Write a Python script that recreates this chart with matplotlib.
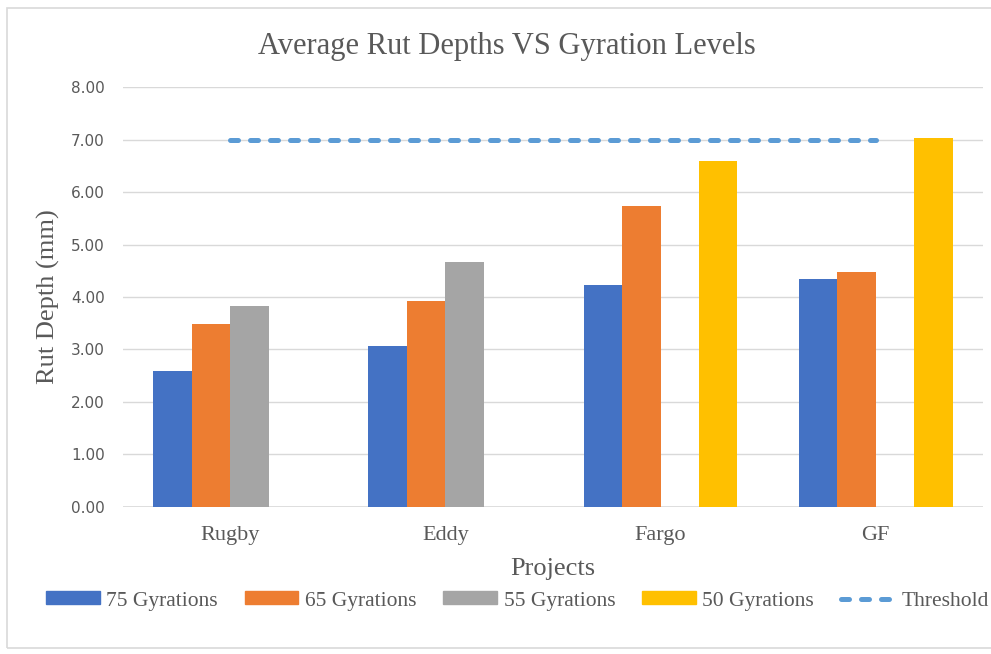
import numpy as np
import matplotlib
matplotlib.use('Agg')
from matplotlib import pyplot as plt
from matplotlib.patches import Patch, Rectangle
from matplotlib.lines import Line2D

projects = ['Rugby', 'Eddy', 'Fargo', 'GF']
series_names = ['75 Gyrations', '65 Gyrations', '55 Gyrations', '50 Gyrations']
g75 = [2.59, 3.06, 4.23, 4.35]
g65 = [3.48, 3.92, 5.73, 4.47]
g55 = [3.82, 4.67, np.nan, np.nan]
g50 = [np.nan, np.nan, 6.60, 7.04]
threshold = [7.0, 7.0, 7.0, 7.0]
yticks = [0, 1, 2, 3, 4, 5, 6, 7, 8]

colors = ['#4472C4', '#ED7D31', '#A5A5A5', '#FFC000']
line_col = '#5B9BD5'
txt_col = '#595959'
serif = 'Liberation Serif'
dash = (0, (1.6, 2.4))

fig = plt.figure(figsize=(9.91, 6.54), dpi=100)
ax = fig.add_axes([0.124, 0.2253, 0.868, 0.6412])

x = np.arange(len(projects))
w = 0.179
for i, vals in enumerate([g75, g65, g55, g50]):
    ax.bar(x + (i - 1.5) * w, vals, w, color=colors[i], zorder=3)

ax.plot(x, threshold, color=line_col, lw=3.6, linestyle=dash,
        dash_capstyle='round', zorder=4)

ax.set_xlim(-0.5, 3.5)
ax.set_ylim(0, 8)
ax.set_yticks(yticks)
ax.set_yticklabels(['%.2f' % v for v in yticks], fontsize=11, color=txt_col)
ax.set_xticks(x)
ax.set_xticklabels(projects, fontfamily=serif, fontsize=16, color=txt_col)
ax.tick_params(axis='both', length=0)
ax.tick_params(axis='y', pad=13)
ax.tick_params(axis='x', pad=14)
ax.grid(axis='y', color='#D9D9D9', lw=1, zorder=0)
for s in ax.spines.values():
    s.set_visible(False)
ax.axhline(0, color='#D9D9D9', lw=1.2, zorder=2)

ax.set_ylabel('Rut Depth (mm)', fontfamily=serif, fontsize=19, color=txt_col, labelpad=8)
ax.set_xlabel('Projects', fontfamily=serif, fontsize=19, color=txt_col, labelpad=9)
fig.text(0.511, 0.929, 'Average Rut Depths VS Gyration Levels', fontfamily=serif,
         fontsize=22, color=txt_col, ha='center', va='center')

handles = [Patch(color=c) for c in colors]
handles.append(Line2D([], [], color=line_col, lw=3.6, linestyle=dash,
                      dash_capstyle='round'))
fig.legend(handles, series_names + ['Threshold'], loc='center', ncol=5,
           bbox_to_anchor=(0.522, 0.081), frameon=False, handlelength=2.5,
           handleheight=0.55, columnspacing=1.25, handletextpad=0.3,
           prop={'family': serif, 'size': 15.5}, labelcolor=txt_col)

# chart area border
fig.patches.append(Rectangle((7 / 991, 6 / 654), 1.2, 1 - 14 / 654, transform=fig.transFigure,
                             fill=False, ec='#D9D9D9', lw=1.2))

fig.savefig('out.png', dpi=100)
